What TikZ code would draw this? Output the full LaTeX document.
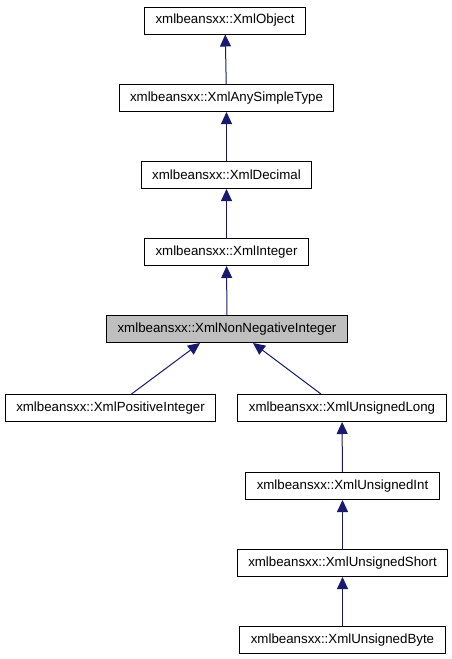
\documentclass[tikz,border=0pt]{standalone}
\usepackage{xcolor}
\usepackage{fontspec}
\setmainfont{Liberation Sans}
\usetikzlibrary{arrows.meta}
\definecolor{edgeblue}{RGB}{25,25,112}
\tikzset{
  cls/.style={draw=black, line width=1pt, fill=white, minimum height=27pt,
    inner xsep=11pt, inner ysep=0pt, font=\fontsize{13.3}{15}\selectfont},
  cur/.style={cls, fill=black!25},
  inh/.style={draw=edgeblue, line width=1pt,
    {Triangle[length=12pt,width=11pt,fill=edgeblue]}-},
}

\begin{document}
\begin{tikzpicture}[x=1pt,y=-1pt]
  \useasboundingbox (0,0) rectangle (452,659) ;
  %
  \node[cls] (obj) at (225,20.5) {xmlbeansxx::XmlObject} ;
  \node[cls] (ast) at (226.5,98) {xmlbeansxx::XmlAnySimpleType} ;
  \node[cls] (dec) at (226.5,175) {xmlbeansxx::XmlDecimal} ;
  \node[cls] (int) at (226.5,252) {xmlbeansxx::XmlInteger} ;
  \node[cur] (nni) at (227,329) {xmlbeansxx::XmlNonNegativeInteger} ;
  %
  \node[cls] (pos) at (110.5,408) {xmlbeansxx::XmlPositiveInteger} ;
  \node[cls] (ulong) at (342,408) {xmlbeansxx::XmlUnsignedLong} ;
  \node[cls] (uint) at (342.5,486) {xmlbeansxx::XmlUnsignedInt} ;
  \node[cls] (ushort) at (342.5,563) {xmlbeansxx::XmlUnsignedShort} ;
  \node[cls] (ubyte) at (342.5,640) {xmlbeansxx::XmlUnsignedByte} ;
  %
  \draw[inh] (obj) -- (ast) ;
  \draw[inh] (ast) -- (dec) ;
  \draw[inh] (dec) -- (int) ;
  \draw[inh] (int) -- (nni) ;
  %
  \draw[inh] ([xshift=-27pt]nni.south) -- ([xshift=21pt]pos.north) ;
  \draw[inh] ([xshift=26pt]nni.south) -- ([xshift=-21pt]ulong.north) ;
  %
  \draw[inh] (ulong) -- (uint) ;
  \draw[inh] (uint) -- (ushort) ;
  \draw[inh] (ushort) -- (ubyte) ;
\end{tikzpicture}
\end{document}
